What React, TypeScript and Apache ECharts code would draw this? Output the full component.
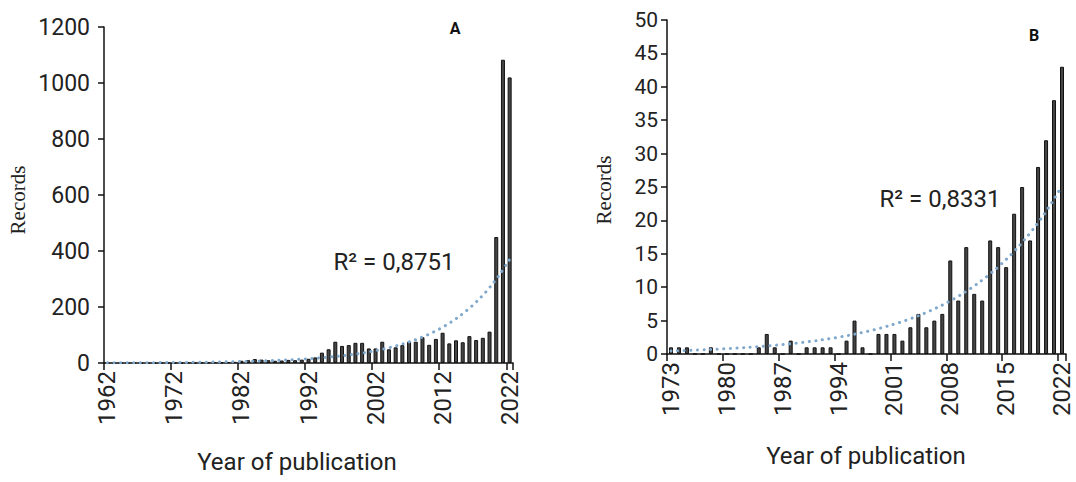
import React, { useEffect, useRef } from "react";
import * as echarts from "echarts";

const START_A = 1962;
const END_A = 2022;
const START_B = 1973;
const END_B = 2022;

const yearsA: string[] = [];
for (let y = START_A; y <= END_A; y++) yearsA.push(String(y));
const yearsB: string[] = [];
for (let y = START_B; y <= END_B; y++) yearsB.push(String(y));

// Panel A records per year, 1962–2022
const recordsA = [
  1, 0, 0, 0, 1, 0, 1, 0, 1, 1, 0, 1, 2, 1, 2, 2, 3, 2, 3, 4,
  8, 10, 14, 12, 10, 8, 9, 11, 10, 12, 15, 20,
  37, 49, 76, 61, 64, 72, 72, 52, 52, 76, 49, 56, 64, 76, 76, 92, 65, 86, 108, 70, 81, 74, 96, 82, 90, 112,
  450, 1083, 1020,
];

// Panel B records per year, 1973–2022
const recordsB = [
  1, 1, 1, 0, 0, 1, 0, 0, 0, 0,
  0, 1, 3, 1, 0, 2, 0, 1, 1, 1,
  1, 0, 2, 5, 1, 0, 3, 3, 3, 2,
  4, 6, 4, 5, 6, 14, 8, 16, 9, 8,
  17, 16, 13, 21, 25, 17, 28, 32, 38, 43,
];

const r2TextA = "R² = 0,8751";
const r2TextB = "R² = 0,8331";

// Exponential trendline (least squares on ln y, positive values only), like a spreadsheet trendline
function expTrend(values: number[]): number[] {
  let n = 0, sx = 0, sy = 0, sxx = 0, sxy = 0;
  values.forEach((v, i) => {
    if (v > 0) {
      const y = Math.log(v);
      n++; sx += i; sy += y; sxx += i * i; sxy += i * y;
    }
  });
  const b = (n * sxy - sx * sy) / (n * sxx - sx * sx);
  const a = Math.exp((sy - b * sx) / n);
  return values.map((_, i) => a * Math.exp(b * i));
}

const trendA = expTrend(recordsA);
const trendB = expTrend(recordsB);

const FONT = "Roboto";
const TEXT = "#222";
const AXIS = "#111";

export default function App() {
  const ref = useRef<HTMLDivElement>(null);
  useEffect(() => {
    if (!ref.current) return;
    const chart = echarts.init(ref.current, null, { renderer: "svg" });
    const axisLine = { show: true, lineStyle: { color: AXIS, width: 1.5 } };
    const xCommon = (data: string[], interval: number) => ({
      type: "category",
      data,
      axisLine,
      axisTick: { show: true, interval, length: 7, lineStyle: { color: AXIS, width: 1.5 } },
      axisLabel: {
        interval,
        rotate: 90,
        fontFamily: FONT,
        fontSize: 24,
        color: TEXT,
        margin: 8,
      },
      splitLine: { show: false },
    });
    const yCommon = (max: number, interval: number, margin: number, fontSize: number) => ({
      type: "value",
      min: 0,
      max,
      interval,
      axisLine,
      axisTick: { show: true, length: 6, lineStyle: { color: AXIS, width: 1.5 } },
      axisLabel: {
        fontFamily: FONT, fontSize, color: TEXT, margin,
        formatter: (v: number) => String(v),
      },
      splitLine: { show: false },
    });
    const barStyle = { color: "#454545", borderColor: "#111", borderWidth: 1 };
    const trendStyle = {
      color: "#7fa8cc",
      width: 3,
      type: [0.1, 6.5],
      cap: "round",
    };
    chart.setOption({
      animation: false,
      backgroundColor: "#fff",
      grid: [
        { left: 104, top: 27, width: 409, height: 336 },
        { left: 667, top: 20, width: 399, height: 334 },
      ],
      xAxis: [
        { gridIndex: 0, ...xCommon(yearsA, 9) },
        { gridIndex: 1, ...xCommon(yearsB, 6) },
      ],
      yAxis: [
        { gridIndex: 0, ...yCommon(1200, 200, 14, 23) },
        { gridIndex: 1, ...yCommon(50, 5, 9, 21) },
      ],
      series: [
        {
          type: "bar", xAxisIndex: 0, yAxisIndex: 0, data: recordsA,
          barWidth: 4, itemStyle: barStyle, clip: false,
        },
        {
          type: "line", xAxisIndex: 0, yAxisIndex: 0, data: trendA,
          symbol: "none", smooth: true, lineStyle: trendStyle, z: 5,
        },
        {
          type: "bar", xAxisIndex: 1, yAxisIndex: 1, data: recordsB,
          barWidth: 4, itemStyle: barStyle, clip: false,
        },
        {
          type: "line", xAxisIndex: 1, yAxisIndex: 1, data: trendB,
          symbol: "none", smooth: true, lineStyle: trendStyle, z: 5,
        },
      ],
      graphic: [
        { type: "text", x: 455, y: 28, style: { text: "A", font: "bold 16px Roboto", fill: "#111", align: "center", verticalAlign: "middle" } },
        { type: "text", x: 1034, y: 35, style: { text: "B", font: "bold 16px Roboto", fill: "#111", align: "center", verticalAlign: "middle" } },
        { type: "text", x: 394, y: 262, style: { text: r2TextA, font: "24px Roboto", fill: TEXT, align: "center", verticalAlign: "middle" } },
        { type: "text", x: 940, y: 199, style: { text: r2TextB, font: "24px Roboto", fill: TEXT, align: "center", verticalAlign: "middle" } },
        { type: "text", x: 18, y: 200, rotation: Math.PI / 2, style: { text: "Records", font: "21px 'Liberation Serif'", fill: TEXT, align: "center", verticalAlign: "middle" } },
        { type: "text", x: 604, y: 190, rotation: Math.PI / 2, style: { text: "Records", font: "21px 'Liberation Serif'", fill: TEXT, align: "center", verticalAlign: "middle" } },
        { type: "text", x: 297, y: 462, style: { text: "Year of publication", font: "24px Roboto", fill: TEXT, align: "center", verticalAlign: "middle" } },
        { type: "text", x: 866, y: 456, style: { text: "Year of publication", font: "24px Roboto", fill: TEXT, align: "center", verticalAlign: "middle" } },
      ],
    });
    return () => chart.dispose();
  }, []);
  return (
    <div
      ref={ref}
      style={{ position: "absolute", left: 0, top: 0, width: 1076, height: 482 }}
    />
  );
}
